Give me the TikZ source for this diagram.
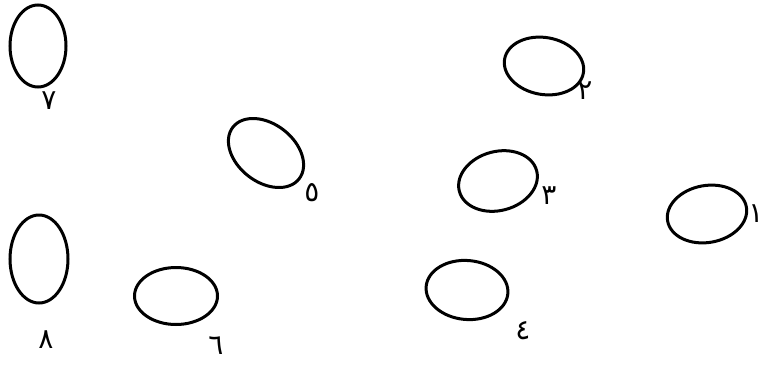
\documentclass[tikz,border=0pt]{standalone}
\usepackage{fontspec}
\usetikzlibrary{shapes.geometric}
\newfontfamily\arabicfont[Script=Arabic]{DejaVu Sans}
\TeXXeTstate=1
\begin{document}
\begin{tikzpicture}[x=1pt,y=-1pt,
  oval/.style={draw, ellipse, line width=3pt, inner sep=0pt},
  num/.style={font=\arabicfont\fontsize{28}{28}\selectfont, inner sep=0pt}]
\useasboundingbox (0,0) rectangle (766,365);
% ellipses
\node[oval, minimum width=56pt, minimum height=82pt] (e7) at (38,46) {};
\node[oval, minimum width=58pt, minimum height=88pt] (e8) at (39,259) {};
\node[oval, minimum width=83pt, minimum height=57pt] (e6) at (176,296) {};
\node[oval, minimum width=84pt, minimum height=58pt, rotate=-38] (e5) at (266,153) {};
\node[oval, minimum width=80pt, minimum height=57pt, rotate=-10] (e2) at (544,66) {};
\node[oval, minimum width=80pt, minimum height=59pt, rotate=15] (e3) at (498,181) {};
\node[oval, minimum width=82pt, minimum height=59pt, rotate=-5] (e4) at (467,290) {};
\node[oval, minimum width=80pt, minimum height=57pt, rotate=10] (e1) at (707,214) {};
% labels
\node[num] (l7) at (49,101) {\beginR ٧\endR};
\node[num] (l8) at (46,340) {\beginR ٨\endR};
\node[num] (l6) at (216,346) {\beginR ٦\endR};
\node[num] (l5) at (312,193) {\beginR ٥\endR};
\node[num] (l2) at (585,91) {\beginR ٢\endR};
\node[num] (l3) at (549,196) {\beginR ٣\endR};
\node[num] (l4) at (523,331) {\beginR ٤\endR};
\node[num] (l1) at (756,214) {\beginR ١\endR};
\end{tikzpicture}
\end{document}
